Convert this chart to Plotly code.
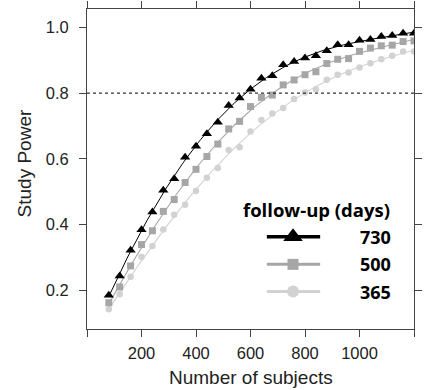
import numpy as np
import plotly.graph_objects as go

# ---- data ----
subjects = list(range(80, 1201, 40))

power_730 = [0.185, 0.243, 0.322, 0.384, 0.438, 0.504, 0.539, 0.605, 0.638, 0.676,
             0.711, 0.762, 0.785, 0.812, 0.845, 0.853, 0.886, 0.896, 0.907, 0.914,
             0.929, 0.947, 0.947, 0.961, 0.963, 0.972, 0.975, 0.982, 0.982]
power_500 = [0.162, 0.210, 0.274, 0.339, 0.381, 0.440, 0.476, 0.528, 0.568, 0.607,
             0.645, 0.691, 0.714, 0.759, 0.787, 0.794, 0.825, 0.840, 0.856, 0.865,
             0.890, 0.903, 0.905, 0.927, 0.937, 0.944, 0.946, 0.957, 0.959]
power_365 = [0.142, 0.188, 0.241, 0.301, 0.335, 0.385, 0.430, 0.460, 0.502, 0.542,
             0.572, 0.627, 0.635, 0.683, 0.718, 0.738, 0.755, 0.782, 0.802, 0.812,
             0.841, 0.856, 0.863, 0.878, 0.891, 0.903, 0.914, 0.927, 0.927]

groups = ["730", "500", "365"]
target_power = 0.8
x_ticks = [0, 200, 400, 600, 800, 1000, 1200]
x_ticklabels = ["", "200", "400", "600", "800", "1000", ""]
y_ticks = [0.2, 0.4, 0.6, 0.8, 1.0]
y_ticklabels = ["0.2", "0.4", "0.6", "0.8", "1.0"]

styles = {
    "730": dict(color="#000000", symbol="triangle-up", size=9, lw=1.0, lsize=17, llw=3.5),
    "500": dict(color="#a6a6a6", symbol="square", size=7, lw=1.1, lsize=11, llw=3),
    "365": dict(color="#d2d2d2", symbol="circle", size=6.5, lw=1.1, lsize=12, llw=3),
}
series = {"730": power_730, "500": power_500, "365": power_365}

fig = go.Figure()

# smooth trend curve (like lattice type="smooth") + points
xs = np.array(subjects, dtype=float)
xfine = np.linspace(xs.min(), xs.max(), 200)
for g in ["365", "500", "730"]:
    st = styles[g]
    ys = np.array(series[g])
    coef = np.polyfit((xs - 640) / 560, ys, 4)
    yfit = np.polyval(coef, (xfine - 640) / 560)
    fig.add_trace(go.Scatter(x=xfine, y=yfit, mode="lines",
                             line=dict(color=st["color"], width=st["lw"]),
                             showlegend=False, hoverinfo="skip"))
    fig.add_trace(go.Scatter(x=subjects, y=series[g], mode="markers",
                             marker=dict(symbol=st["symbol"], size=st["size"],
                                         color=st["color"], line=dict(width=0)),
                             name=g, showlegend=False))

# target power reference line
fig.add_shape(type="line", xref="paper", yref="y", x0=0, x1=1,
              y0=target_power, y1=target_power,
              line=dict(color="#000000", width=1, dash="3px,3px"))

# custom legend on overlay axes (0..1 in plot area)
leg_y = [0.288, 0.202, 0.117]
for g, yy in zip(groups, leg_y):
    st = styles[g]
    fig.add_trace(go.Scatter(x=[0.550, 0.713], y=[yy, yy], mode="lines",
                             line=dict(color=st["color"], width=st["llw"]),
                             xaxis="x2", yaxis="y2", showlegend=False, hoverinfo="skip"))
    fig.add_trace(go.Scatter(x=[0.630], y=[yy], mode="markers",
                             marker=dict(symbol=st["symbol"], size=st["lsize"],
                                         color=st["color"], line=dict(width=0)),
                             xaxis="x2", yaxis="y2", showlegend=False, hoverinfo="skip"))
    fig.add_annotation(x=0.936, y=yy, xref="x2", yref="y2", text="<b>%s</b>" % g,
                       showarrow=False, xanchor="right", yanchor="middle",
                       font=dict(family="Open Sans", size=18, color="#000000"))
fig.add_annotation(x=0.702, y=0.372, xref="x2", yref="y2",
                   text="<b>follow-up (days)</b>", showarrow=False,
                   xanchor="center", yanchor="middle",
                   font=dict(family="Open Sans", size=18.5, color="#000000"))

# axis titles
title_font = dict(family="Liberation Sans, Arial", size=19, color="#222222")
fig.add_annotation(x=0.5, y=-0.15, xref="paper", yref="paper", text="Number of subjects",
                   showarrow=False, xanchor="center", yanchor="middle", font=title_font)
fig.add_annotation(x=-0.19, y=0.517, xref="paper", yref="paper", text="Study Power",
                   showarrow=False, xanchor="center", yanchor="middle", textangle=-90,
                   font=title_font)

axis_common = dict(showline=True, linecolor="#444444", linewidth=1, mirror="allticks",
                   ticks="outside", ticklen=7, tickcolor="#444444", tickwidth=1,
                   showgrid=False, zeroline=False, automargin=False,
                   tickfont=dict(family="Liberation Sans, Arial", size=16.5, color="#222222"))

fig.update_layout(
    width=425, height=390,
    margin=dict(l=87, r=11, t=9, b=61),
    plot_bgcolor="white", paper_bgcolor="white",
    xaxis=dict(range=[0, 1200], tickvals=x_ticks, ticktext=x_ticklabels,
               ticklabelstandoff=2, **axis_common),
    yaxis=dict(range=[0.082, 1.056], tickvals=y_ticks, ticktext=y_ticklabels,
               ticklabelstandoff=7, **axis_common),
    xaxis2=dict(range=[0, 1], overlaying="x", anchor="y2", visible=False),
    yaxis2=dict(range=[0, 1], overlaying="y", anchor="x2", visible=False),
)

fig.write_html("out.html", config={"displayModeBar": False},
               post_script="document.body.style.margin='0';document.body.style.overflow='hidden';")
